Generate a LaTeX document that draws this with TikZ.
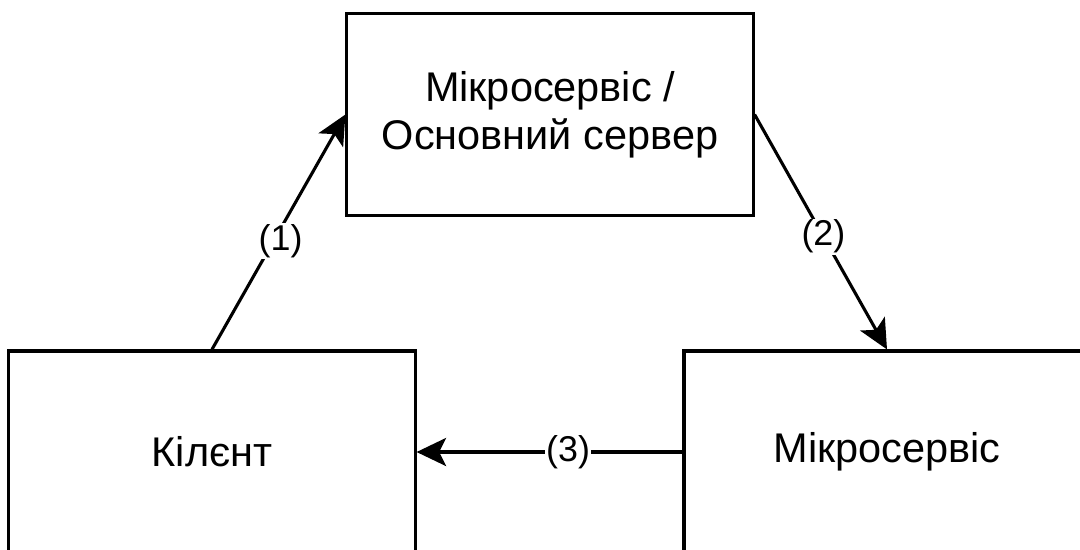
\documentclass[tikz,border=0pt]{standalone}
\usepackage{fontspec}
\setmainfont{Liberation Sans}
\usetikzlibrary{arrows.meta}

\tikzset{
  block/.style={draw, line width=2.2pt, rectangle, minimum width=10.15cm, minimum height=5.05cm,
    align=center, font=\fontsize{29.5}{34}\selectfont},
  flow/.style={line width=2.2pt, -{Stealth[length=21pt, width=20pt, inset=5pt]}},
  lbl/.style={fill=white, inner sep=1pt, font=\fontsize{25.5}{30}\selectfont}
}

\begin{document}
\begin{tikzpicture}[x=0.025cm, y=-0.025cm]
    \useasboundingbox (0,0) rectangle (1080,549);

    % Boxes
    \node[block] (main) at (550,114.5) {Мікросервіс /\\Основний сервер};
    \node[block] (client) at (212,452) {Кілєнт};
    \node[block] (micro) at (887,452) {Мікросервіс};

    % Requests
    \draw[flow] (client.north) -- node[lbl, pos=0.46, xshift=0.18cm] {(1)} (main.west);
    \draw[flow] (main.east) -- node[lbl, pos=0.52] {(2)} (micro.north);
    \draw[flow] (micro.west) -- node[lbl, pos=0.43] {(3)} (client.east);
\end{tikzpicture}
\end{document}
